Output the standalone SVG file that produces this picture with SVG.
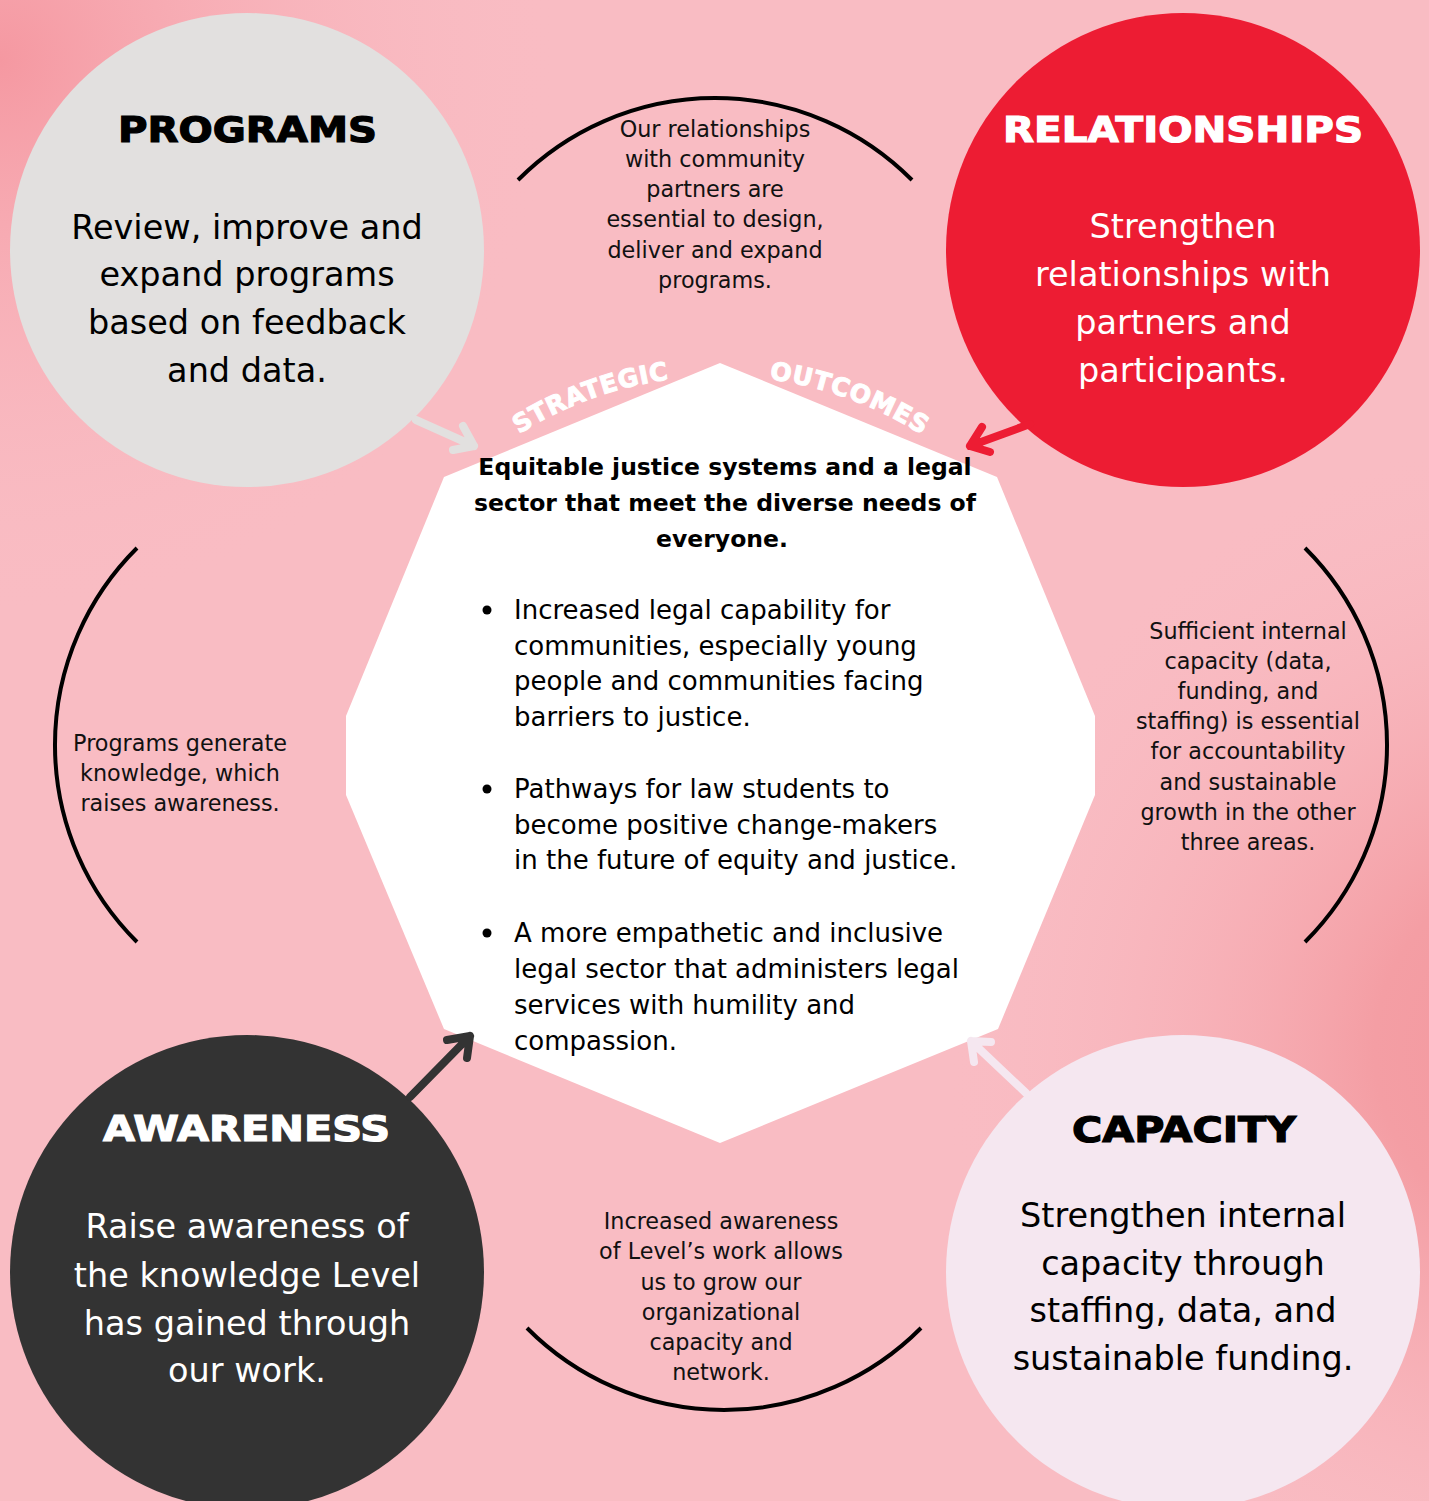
<svg xmlns="http://www.w3.org/2000/svg" width="1429" height="1501" viewBox="0 0 1429 1501">
<defs>
<radialGradient id="gTL" cx="0" cy="60" r="560" gradientUnits="userSpaceOnUse">
<stop offset="0" stop-color="#f598a1"/>
<stop offset="1" stop-color="#f9bcc3" stop-opacity="0"/>
</radialGradient>
<radialGradient id="gR" cx="1560" cy="1050" r="620" gradientUnits="userSpaceOnUse">
<stop offset="0" stop-color="#f3979e"/>
<stop offset="0.3" stop-color="#f49ea4"/>
<stop offset="1" stop-color="#f9bcc3" stop-opacity="0"/>
</radialGradient>
<path id="outerArc" d="M 343,753 A 377 377 0 0 1 1097,753"/>
</defs>
<style>
.arc{fill:none;stroke:#000;stroke-width:4}
.arrow{fill:none;stroke-width:8;stroke-linecap:round;stroke-linejoin:round}
.head{font-family:"DejaVu Sans",sans-serif;font-weight:bold;font-size:36px;text-anchor:middle;stroke-width:1.2}
.body{font-family:"DejaVu Sans",sans-serif;font-size:33.5px;text-anchor:middle}
.note{font-family:"DejaVu Sans",sans-serif;font-size:22.3px;text-anchor:middle;fill:#111}
.title{font-family:"DejaVu Sans",sans-serif;font-weight:bold;font-size:23.5px;text-anchor:middle;fill:#000}
.bul{font-family:"DejaVu Sans",sans-serif;font-size:26px;fill:#000}
.curve{font-family:"DejaVu Sans",sans-serif;font-weight:bold;font-size:25px;fill:#fff;stroke:#fff;stroke-width:1;letter-spacing:0.8px;text-anchor:middle}
</style>
<rect width="1429" height="1501" fill="#f9bcc3"/>
<rect width="1429" height="1501" fill="url(#gTL)"/>
<rect width="1429" height="1501" fill="url(#gR)"/>

<g id="connectors">
<path class="arc" d="M 518,180 A 277.6 277.6 0 0 1 912,180"/>
<path class="arc" d="M 527,1328 A 277.6 277.6 0 0 0 921,1328"/>
<path class="arc" d="M 137,548 A 277.6 277.6 0 0 0 137,942"/>
<path class="arc" d="M 1305,548 A 277.6 277.6 0 0 1 1305,942"/>
</g>

<g id="programs">
<circle cx="247" cy="250" r="237" fill="#e2e0df"/>
<text class="head" x="247.5" y="142" fill="#000" stroke="#000" textLength="259" lengthAdjust="spacingAndGlyphs">PROGRAMS</text>
<text class="body" fill="#000"><tspan x="247" y="239">Review, improve and</tspan><tspan x="247" y="286">expand programs</tspan><tspan x="247" y="334">based on feedback</tspan><tspan x="247" y="382">and data.</tspan></text>
</g>

<g id="relationships">
<circle cx="1183" cy="250" r="237" fill="#ed1c33"/>
<text class="head" x="1183" y="142" fill="#fff" stroke="#fff" textLength="360" lengthAdjust="spacingAndGlyphs">RELATIONSHIPS</text>
<text class="body" fill="#fff"><tspan x="1183" y="238">Strengthen</tspan><tspan x="1183" y="286">relationships with</tspan><tspan x="1183" y="334">partners and</tspan><tspan x="1183" y="382">participants.</tspan></text>
</g>

<g id="awareness">
<circle cx="247" cy="1272" r="237" fill="#333333"/>
<text class="head" x="246.5" y="1141" fill="#fff" stroke="#fff" textLength="287" lengthAdjust="spacingAndGlyphs">AWARENESS</text>
<text class="body" fill="#fff"><tspan x="247" y="1238">Raise awareness of</tspan><tspan x="247" y="1287">the knowledge Level</tspan><tspan x="247" y="1335">has gained through</tspan><tspan x="247" y="1382">our work.</tspan></text>
</g>

<g id="capacity">
<circle cx="1183" cy="1272" r="237" fill="#f5e7f0"/>
<text class="head" x="1184" y="1142" fill="#000" stroke="#000" textLength="224" lengthAdjust="spacingAndGlyphs">CAPACITY</text>
<text class="body" fill="#000"><tspan x="1183" y="1227">Strengthen internal</tspan><tspan x="1183" y="1275">capacity through</tspan><tspan x="1183" y="1322">staffing, data, and</tspan><tspan x="1183" y="1370">sustainable funding.</tspan></text>
</g>

<g id="outcomes">
<polygon points="720,363 997,477 1095,716 1095,795 998,1029 720,1143 444,1029 346,795 346,716 444,477" fill="#fff"/>
<text class="curve"><textPath href="#outerArc" startOffset="460.6">STRATEGIC</textPath></text>
<text class="curve"><textPath href="#outerArc" startOffset="723.8">OUTCOMES</textPath></text>
<text class="title"><tspan x="725" y="475">Equitable justice systems and a legal</tspan><tspan x="725" y="511">sector that meet the diverse needs of</tspan><tspan x="722" y="547">everyone.</tspan></text>
<circle cx="487" cy="610" r="4.5" fill="#000"/>
<circle cx="487" cy="789" r="4.5" fill="#000"/>
<circle cx="487" cy="933" r="4.5" fill="#000"/>
<text class="bul"><tspan x="514" y="619">Increased legal capability for</tspan><tspan x="514" y="655">communities, especially young</tspan><tspan x="514" y="690">people and communities facing</tspan><tspan x="514" y="726">barriers to justice.</tspan></text>
<text class="bul"><tspan x="514" y="798">Pathways for law students to</tspan><tspan x="514" y="834">become positive change-makers</tspan><tspan x="514" y="869">in the future of equity and justice.</tspan></text>
<text class="bul"><tspan x="514" y="942">A more empathetic and inclusive</tspan><tspan x="514" y="978">legal sector that administers legal</tspan><tspan x="514" y="1014">services with humility and</tspan><tspan x="514" y="1050">compassion.</tspan></text>
</g>

<g id="note-top">
<text class="note"><tspan x="715" y="137">Our relationships</tspan><tspan x="715" y="167">with community</tspan><tspan x="715" y="197">partners are</tspan><tspan x="715" y="227">essential to design,</tspan><tspan x="715" y="258">deliver and expand</tspan><tspan x="715" y="288">programs.</tspan></text>
</g>
<g id="note-left">
<text class="note"><tspan x="180" y="751">Programs generate</tspan><tspan x="180" y="781">knowledge, which</tspan><tspan x="180" y="811">raises awareness.</tspan></text>
</g>
<g id="note-right">
<text class="note"><tspan x="1248" y="639">Sufficient internal</tspan><tspan x="1248" y="669">capacity (data,</tspan><tspan x="1248" y="699">funding, and</tspan><tspan x="1248" y="729">staffing) is essential</tspan><tspan x="1248" y="759">for accountability</tspan><tspan x="1248" y="790">and sustainable</tspan><tspan x="1248" y="820">growth in the other</tspan><tspan x="1248" y="850">three areas.</tspan></text>
</g>
<g id="note-bottom">
<text class="note"><tspan x="721" y="1229">Increased awareness</tspan><tspan x="721" y="1259">of Level’s work allows</tspan><tspan x="721" y="1290">us to grow our</tspan><tspan x="721" y="1320">organizational</tspan><tspan x="721" y="1350">capacity and</tspan><tspan x="721" y="1380">network.</tspan></text>
</g>

<g id="arrows">
<path class="arrow" stroke="#e2e0df" d="M 416,420 L 474,446 M 463,426 L 474,446 L 453,450"/>
<path class="arrow" stroke="#ed1c33" d="M 1030,424 L 970,446 M 982,427 L 970,446 L 990,452"/>
<path class="arrow" stroke="#333333" d="M 410,1097 L 470,1036 M 447,1040 L 470,1036 L 467,1058"/>
<path class="arrow" stroke="#f5e7f0" d="M 1026,1093 L 971,1041 M 991,1042 L 971,1041 L 974,1062"/>
</g>
</svg>
